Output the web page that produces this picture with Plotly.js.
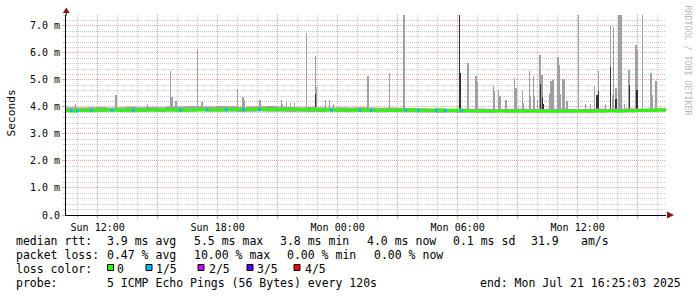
<!DOCTYPE html>
<html><head><meta charset="utf-8">
<script src="https://cdn.plot.ly/plotly-3.0.1.min.js"></script>
<style>html,body{margin:0;padding:0;background:#fff;}#chart{width:697px;height:297px;}</style>
</head><body><div id="chart"></div>
<script>
// ---------------- data ----------------
const rangeStart = '20 10:25:03';
const rangeEnd   = '21 16:25:03';

// median rtt (ms), every 15 min starting Sun 10:25
const medianStart = '20 10:25';
const medianRtt = [
  3.86,3.84,3.87,3.88, 3.88,3.87,3.89,3.88, 3.88,3.89,3.88,3.87, 3.88,3.89,3.88,3.88,
  3.89,3.88,3.88,3.89, 3.90,3.89,3.88,3.89, 3.88,3.88,3.89,3.90, 3.89,3.88,3.89,3.89,
  3.90,3.91,3.90,3.91, 3.90,3.91,3.92,3.90, 3.90,3.91,3.90,3.90, 3.91,3.92,3.90,3.89,
  3.90,3.91,3.89,3.88, 3.89,3.88,3.88,3.89, 3.88,3.87,3.88,3.89, 3.88,3.87,3.88,3.88,
  3.87,3.88,3.87,3.88, 3.89,3.88,3.87,3.88, 3.88,3.87,3.88,3.87, 3.87,3.88,3.87,3.86,
  3.86,3.85,3.85,3.86, 3.85,3.84,3.85,3.85, 3.84,3.85,3.84,3.85, 3.84,3.85,3.84,3.85,
  3.84,3.83,3.84,3.85, 3.84,3.85,3.84,3.85, 3.84,3.84,3.85,3.84, 3.86,3.85,3.84,3.85,
  3.86,3.85,3.86,3.87, 3.86,3.87,3.88,3.89, 3.89
];

// smoke band (min / max ping, ms), every 30 min starting Sun 10:25
const smokeStart = '20 10:25';
const smokeLow = [
  3.80,3.81,3.80,3.81,3.82,3.81,3.80,3.81,3.82,3.81,3.82,3.81,3.82,3.83,3.82,3.82,
  3.82,3.81,3.82,3.83,3.82,3.82,3.81,3.82,3.81,3.81,3.82,3.81,3.80,3.81,3.81,3.80,
  3.81,3.80,3.80,3.79,3.79,3.78,3.79,3.78,3.79,3.78,3.78,3.79,3.78,3.78,3.79,3.78,
  3.79,3.78,3.78,3.79,3.78,3.79,3.80,3.79,3.80,3.81,3.81,3.82,3.82
];
const smokeHigh = [
  3.99,3.98,3.99,4.00,3.98,3.99,4.01,3.99,4.00,3.99,4.02,4.01,4.03,4.02,4.01,4.03,
  4.02,4.00,4.01,4.02,4.03,4.01,4.00,3.99,4.00,3.99,3.98,3.99,3.98,3.99,3.98,3.97,
  3.98,3.97,3.96,3.95,3.94,3.95,3.93,3.94,3.93,3.94,3.93,3.92,3.93,3.94,3.93,3.92,
  3.93,3.94,3.93,3.92,3.93,3.94,3.93,3.94,3.95,3.94,3.95,3.96,3.97
];

// outlier steps (3 min each): time, highest ping, inner (2nd/4th ping) top
const spikeTimes = [
  '20 10:53','20 12:52','20 12:55','20 14:28','20 15:38','20 15:41','20 15:44','20 15:52','20 15:55',
  '20 16:58','20 17:10','20 17:13','20 18:58','20 19:13','20 19:16','20 19:19','20 20:04','20 20:07',
  '20 21:10','20 21:13','20 21:25','20 21:37','20 21:49','20 22:26','20 22:52','20 22:55',
  '20 23:23','20 23:35','20 23:47',
  '21 01:28','21 01:31','21 02:35','21 03:16','21 03:19','21 06:04','21 06:07','21 06:28','21 06:31',
  '21 06:52','21 06:55','21 06:58','21 07:46','21 07:49','21 08:01','21 08:04','21 08:07','21 08:22',
  '21 08:25','21 08:49','21 08:52','21 08:55','21 09:13','21 09:16','21 09:34','21 09:37','21 09:46',
  '21 09:49','21 09:58','21 10:04','21 10:07','21 10:10','21 10:13','21 10:16','21 10:34','21 10:37',
  '21 10:40','21 10:43','21 10:46','21 10:58','21 11:01','21 11:04','21 11:07','21 11:13','21 11:16',
  '21 11:19','21 11:25','21 11:28','21 12:01','21 12:22','21 12:37','21 12:49','21 12:55','21 12:58',
  '21 13:01','21 13:22','21 13:37','21 13:43','21 13:46','21 13:52','21 13:55','21 14:01','21 14:04',
  '21 14:07','21 14:10','21 14:19','21 14:31','21 14:34','21 14:52','21 14:55','21 14:58','21 15:13',
  '21 15:37','21 15:40','21 15:43','21 15:52','21 15:55'
];
const spikeMax = [
  4.11,4.44,4.44,4.10,5.33,4.38,4.38,4.22,4.22,
  6.15,4.18,4.18,4.67,4.37,4.37,4.26,4.26,4.26,
  4.26,4.10,4.17,4.13,4.13,6.75,5.89,4.74,
  4.26,4.26,4.10,
  5.16,5.16,5.25,7.40,7.40,7.40,5.26,5.63,5.63,
  5.16,5.16,4.93,4.78,4.57,4.62,4.40,4.40,4.26,
  4.26,5.07,4.70,4.70,4.63,4.15,5.33,4.40,5.13,
  4.40,4.27,5.93,5.93,5.18,5.18,4.10,4.48,4.95,
  4.95,5.00,5.00,5.85,5.85,5.55,4.48,5.04,5.04,
  5.04,4.22,4.22,7.40,4.10,4.10,4.78,4.45,4.45,
  5.33,4.10,7.00,4.43,6.94,4.70,4.70,7.40,7.40,
  7.40,7.40,4.10,5.37,5.37,6.30,6.30,6.10,7.40,
  5.26,5.26,4.45,4.97,4.97
];
const spikeInner = [
  null,null,null,null,null,null,null,null,null,
  null,null,null,null,null,null,null,null,null,
  null,null,null,null,null,null,4.49,null,
  null,null,null,
  null,null,null,null,null,7.40,5.26,null,null,
  null,null,null,null,null,null,null,null,null,
  null,null,null,null,null,null,null,null,null,
  null,null,null,4.85,null,4.37,4.10,null,null,
  null,null,null,null,null,null,null,null,null,
  null,null,null,null,null,null,null,4.45,4.45,
  4.60,null,5.48,null,null,4.30,4.30,null,null,
  null,null,null,null,4.81,null,4.63,4.63,null,
  null,null,null,null,null
];

// steps with 1/5 packet loss: time and median rtt
const lossTimes = ['20 10:37','20 10:55','20 11:37','20 12:40','20 13:43','20 16:04','20 17:25','20 18:22',
  '20 19:13','20 20:01','20 23:37','21 01:04','21 01:37','21 03:19','21 03:58','21 04:52','21 05:19','21 06:07'];
const lossRtt = [3.86,3.85,3.88,3.88,3.88,3.89,3.89,3.90,3.91,3.90,3.88,3.88,3.88,3.88,3.88,3.88,3.87,3.87];

const xTickTimes = ['20 12:00','20 15:00','20 18:00','20 21:00','21 00:00','21 03:00','21 06:00','21 09:00','21 12:00','21 15:00'];
const xTickText  = ['Sun 12:00','','Sun 18:00','','Mon 00:00','','Mon 06:00','','Mon 12:00',''];
const yTickVals = [0,1,2,3,4,5,6,7];
const yTickText = ['0.0','1.0 m','2.0 m','3.0 m','4.0 m','5.0 m','6.0 m','7.0 m'];

const legendRows = [
  ['median rtt:','3.9 ms avg','5.5 ms max','3.8 ms min','4.0 ms now','0.1 ms sd','31.9','am/s'],
  ['packet loss:','0.47 % avg','10.00 % max','0.00 % min','0.00 % now'],
  ['loss color:'],
  ['probe:','5 ICMP Echo Pings (56 Bytes) every 120s','end: Mon Jul 21 16:25:03 2025']
];
const lossLabels = ['0','1/5','2/5','3/5','4/5'];
const lossColors = ['#26ff00','#00b8ff','#c800ff','#5e00ff','#ff0000'];

// ---------------- helpers ----------------
function T(s){ // 'DD HH:MM[:SS]' in July 2025
  const [d, hm] = s.split(' ');
  const p = hm.split(':').map(Number);
  return Date.UTC(2025, 6, Number(d), p[0], p[1], p[2]||0);
}
const MIN = 60000;
const L = 66, R = 31, TOP = 15, BOT = 82, W = 697, H = 297;
const PW = W - L - R, PH = H - TOP - BOT;
const px = x => (x - L) / PW;
const py = y => (H - BOT - y) / PH;

const medX = medianRtt.map((_, i) => T(medianStart) + i * 15 * MIN);
const smX = smokeLow.map((_, i) => T(smokeStart) + i * 30 * MIN);
const spX = spikeTimes.map(T);
const inX = [], inY = [];
spikeInner.forEach((v, i) => { if (v !== null) { inX.push(spX[i]); inY.push(v); } });
const lsX = [], lsY = [];
lossTimes.forEach((s, i) => { const t = T(s); lsX.push(t, t + 8 * MIN, null); lsY.push(lossRtt[i], lossRtt[i], null); });

const FLOOR = 3.85;
const traces = [
  {type:'bar', x: spX, y: spikeMax.map(v => v - FLOOR), base: FLOOR, width: 3*MIN, offset: 0,
   marker:{color:'rgba(160,160,160,0.999)', line:{width:0}}, hoverinfo:'skip'},
  {type:'bar', x: inX, y: inY.map(v => v - FLOOR), base: FLOOR, width: 3*MIN, offset: 0,
   marker:{color:'rgba(50,50,50,0.999)', line:{width:0}}, hoverinfo:'skip'},
  {type:'scatter', mode:'lines', x: smX, y: smokeLow, line:{width:0, shape:'hv'}, hoverinfo:'skip'},
  {type:'scatter', mode:'lines', x: smX, y: smokeHigh, line:{width:0, shape:'hv'}, fill:'tonexty',
   fillcolor:'#a3a3a3', hoverinfo:'skip'},
  {type:'scatter', mode:'lines', x: medX, y: medianRtt, line:{width:2.6, shape:'hv', color: lossColors[0]}, hoverinfo:'skip'},
  {type:'scatter', mode:'lines', x: lsX, y: lsY, line:{width:2.6, color: lossColors[1]}, connectgaps:false, hoverinfo:'skip'}
];

const MONO = 'DejaVu Sans Mono';
const annotations = [];
const shapes = [];
function txt(x, y, s, extra){
  annotations.push(Object.assign({xref:'paper', yref:'paper', x: px(x), y: py(y), text: s, showarrow:false,
    xanchor:'left', yanchor:'middle', borderpad:0, borderwidth:0,
    font:{family: MONO, size: 11.5, color:'#000'}}, extra||{}));
}
const rowY = [240.5, 254.5, 268.5, 282.5];
const row1X = [16, 107, 193.5, 280, 366.5, 453, 531, 581];
const row2X = [16, 107, 193.5, 287, 373.5];
legendRows[0].forEach((s, i) => txt(row1X[i], rowY[0], s));
legendRows[1].forEach((s, i) => txt(row2X[i], rowY[1], s));
txt(16, rowY[2], legendRows[2][0]);
txt(16, rowY[3], legendRows[3][0]);
txt(107, rowY[3], legendRows[3][1]);
txt(480, rowY[3], legendRows[3][2]);
const boxX = [107.5, 146, 198, 247, 294];
const labX = [117, 156, 208.5, 257, 305];
lossLabels.forEach((s, i) => {
  txt(labX[i], rowY[2], s);
  shapes.push({type:'rect', xref:'paper', yref:'paper', x0: px(boxX[i]), x1: px(boxX[i] + 6),
    y0: py(270.5), y1: py(264.5), fillcolor: lossColors[i], line:{color:'#000', width:1}});
});
// y axis title
annotations.push({xref:'paper', yref:'paper', x: px(11), y: py(113.5), text:'Seconds', showarrow:false,
  textangle:-90, xanchor:'center', yanchor:'middle', font:{family: MONO, size: 11.2, color:'#000'}});
// watermark
annotations.push({xref:'paper', yref:'paper', x: px(687.5), y: py(60), text:'RRDTOOL / TOBI OETIKER', showarrow:false,
  textangle:90, xanchor:'center', yanchor:'middle', font:{family: MONO, size: 8.3, color:'#b8b8b8'}});

// axis arrows
const AR = '#8a1414';
shapes.push({type:'path', xref:'paper', yref:'paper',
  path:`M ${px(667)} ${py(211.5)} L ${px(674)} ${py(215)} L ${px(667)} ${py(218.5)} Z`, fillcolor: AR, line:{width:0}});
shapes.push({type:'path', xref:'paper', yref:'paper',
  path:`M ${px(62.8)} ${py(13)} L ${px(66.3)} ${py(7.5)} L ${px(69.8)} ${py(13)} Z`, fillcolor: AR, line:{width:0}});
shapes.push({type:'line', xref:'paper', yref:'paper', x0: px(66.3), x1: px(66.3), y0: py(15.5), y1: py(12.5),
  line:{color:'#000', width:1}});

const MAJ = '#e3a7a7', MINC = '#cbcbcb';
const layout = {
  width: W, height: H, margin:{l:L, r:R, t:TOP, b:BOT, pad:0},
  paper_bgcolor:'#fff', plot_bgcolor:'#fff', showlegend:false, barmode:'overlay', bargap:0,
  font:{family: MONO, size:10, color:'#000'},
  xaxis:{type:'date', range:[T(rangeStart), T(rangeEnd)], tickmode:'array', tickvals: xTickTimes.map(T), ticktext: xTickText,
    showgrid:true, gridcolor: MAJ, griddash:'1px,1px', gridwidth:1,
    ticks:'outside', ticklen:3, tickcolor: MAJ, tickwidth:1,
    showline:true, linecolor:'#000', linewidth:1, zeroline:false,
    tickfont:{family: MONO, size:10, color:'#000'}, ticklabelstandoff: 0,
    minor:{tickmode:'linear', tick0: T('20 00:00'), dtick: 60*MIN, showgrid:true, gridcolor: MINC, griddash:'1px,1px',
      gridwidth:1, ticks:'outside', ticklen:3, tickcolor: MINC}},
  yaxis:{range:[0, 7.4], tickmode:'array', tickvals: yTickVals, ticktext: yTickText,
    showgrid:true, gridcolor: MAJ, griddash:'1px,1px', gridwidth:1,
    ticks:'outside', ticklen:3, tickcolor: MAJ, tickwidth:1,
    showline:true, linecolor:'#000', linewidth:1, zeroline:false,
    tickfont:{family: MONO, size:10, color:'#000'},
    minor:{tickmode:'linear', tick0:0, dtick:0.2, showgrid:true, gridcolor: MINC, griddash:'1px,1px',
      gridwidth:1, ticks:'outside', ticklen:2, tickcolor: MINC}},
  annotations, shapes
};
Plotly.newPlot('chart', traces, layout, {staticPlot:true, displayModeBar:false});
</script></body></html>
